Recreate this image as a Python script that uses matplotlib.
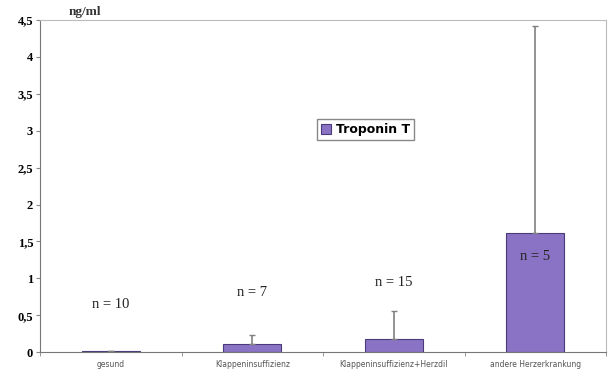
import matplotlib
matplotlib.use("Agg")
import matplotlib.pyplot as plt
import numpy as np

categories = ["gesund", "Klappeninsuffizienz", "Klappeninsuffizienz+Herzdil", "andere Herzerkrankung"]
values = [0.02, 0.11, 0.18, 1.61]
err_upper = [0.0, 0.12, 0.38, 2.81]
n_labels = ["n = 10", "n = 7", "n = 15", "n = 5"]
n_label_y = [0.65, 0.81, 0.95, 1.30]
yticks = [0, 0.5, 1, 1.5, 2, 2.5, 3, 3.5, 4, 4.5]

fig = plt.figure(figsize=(6.08, 3.77), dpi=100)
ax = fig.add_axes([0.066, 0.066, 0.931, 0.881])

x = np.arange(len(categories))
ax.bar(x, values, width=0.41, color="#8a73c4", edgecolor="#4b3a7a", linewidth=0.8,
       label="Troponin T", zorder=2)
ax.errorbar(x, values, yerr=[np.zeros(len(values)), err_upper], fmt="none",
            ecolor="#808080", elinewidth=1.2, capsize=2, zorder=3)

for xi, lab, yy in zip(x, n_labels, n_label_y):
    ax.text(xi, yy, lab, ha="center", va="center", family="Liberation Serif",
            fontsize=10.5, color="#222222")

ax.set_xlim(-0.5, len(categories) - 0.5)
ax.set_ylim(0, 4.5)
ax.set_yticks(yticks)
ax.set_yticklabels([("%g" % t).replace(".", ",") for t in yticks],
                   family="Liberation Serif", fontweight="bold", fontsize=9)
ax.set_xticks(x)
ax.set_xticklabels(categories, fontsize=5.5, color="#555555")
ax.set_xticks(np.arange(-0.5, len(categories), 1), minor=True)
ax.tick_params(axis="x", which="major", length=0, pad=6)
ax.tick_params(axis="x", which="minor", length=3, color="#888888")
ax.tick_params(axis="y", length=3, color="#888888", pad=2)

for side in ["left", "bottom"]:
    ax.spines[side].set_color("#777777")
for side in ["top", "right"]:
    ax.spines[side].set_color("#bbbbbb")

ax.text(-0.3, 4.53, "ng/ml", ha="left", va="bottom", family="Liberation Serif",
        fontweight="bold", fontsize=9.5, color="#333333")

leg = ax.legend(loc="center", bbox_to_anchor=(0.575, 0.67),
                prop={"weight": "bold", "size": 9}, handlelength=0.8, handleheight=0.8,
                handletextpad=0.4, borderpad=0.3, fancybox=False, framealpha=1)
leg.get_frame().set_edgecolor("#888888")

fig.savefig("out.png", dpi=100)
